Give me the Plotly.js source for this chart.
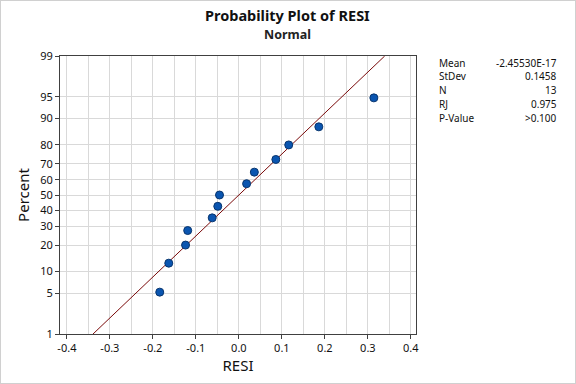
<!DOCTYPE html>
<html>
<head>
<meta charset="utf-8">
<script src="https://cdn.plot.ly/plotly-3.0.1.min.js"></script>
<style>
html,body{margin:0;padding:0;background:#fff;}
#wrap{width:574px;height:382px;border:1px solid #d0d0d0;overflow:hidden;}
#chart{width:574px;height:382px;}
</style>
</head>
<body>
<div id="wrap"><div id="chart"></div></div>
<script>
// ---- data ----
const resi = [-0.184, -0.163, -0.124, -0.119, -0.062, -0.049, -0.045, 0.018, 0.036, 0.086, 0.116, 0.186, 0.314];
const percent = [5.2, 12.7, 20.1, 27.6, 35.1, 42.5, 50.0, 57.5, 64.9, 72.4, 79.9, 87.3, 94.8];
const percentTicks = [1, 5, 10, 20, 30, 40, 50, 60, 70, 80, 90, 95, 99];
const xTicks = [-0.4, -0.3, -0.2, -0.1, 0.0, 0.1, 0.2, 0.3, 0.4];
const xTickLabels = ["-0.4", "-0.3", "-0.2", "-0.1", "0.0", "0.1", "0.2", "0.3", "0.4"];
const statLabels = ["Mean", "StDev", "N", "RJ", "P-Value"];
const statValues = ["-2.45530E-17", "0.1458", "13", "0.975", ">0.100"];
const fitMean = -2.45530e-17;
const fitStDev = 0.1458;
const linePercents = [1, 99];

// inverse standard normal CDF (Acklam) – probability-scale transform
function norminv(p) {
  const a = [-3.969683028665376e+01, 2.209460984245205e+02, -2.759285104469687e+02, 1.383577518672690e+02, -3.066479806614716e+01, 2.506628277459239e+00];
  const b = [-5.447609879822406e+01, 1.615858368580409e+02, -1.556989798598866e+02, 6.680131188771972e+01, -1.328068155288572e+01];
  const c = [-7.784894002430293e-03, -3.223964580411365e-01, -2.400758277161838e+00, -2.549732539343734e+00, 4.374664141464968e+00, 2.938163982698783e+00];
  const d = [7.784695709041462e-03, 3.224671290700398e-01, 2.445134137142996e+00, 3.754408661907416e+00];
  const pl = 0.02425, ph = 1 - pl;
  let q, r;
  if (p < pl) {
    q = Math.sqrt(-2 * Math.log(p));
    return (((((c[0]*q+c[1])*q+c[2])*q+c[3])*q+c[4])*q+c[5]) / ((((d[0]*q+d[1])*q+d[2])*q+d[3])*q+1);
  } else if (p <= ph) {
    q = p - 0.5; r = q*q;
    return (((((a[0]*r+a[1])*r+a[2])*r+a[3])*r+a[4])*r+a[5])*q / (((((b[0]*r+b[1])*r+b[2])*r+b[3])*r+b[4])*r+1);
  } else {
    q = Math.sqrt(-2 * Math.log(1 - p));
    return -(((((c[0]*q+c[1])*q+c[2])*q+c[3])*q+c[4])*q+c[5]) / ((((d[0]*q+d[1])*q+d[2])*q+d[3])*q+1);
  }
}
const toZ = pc => norminv(pc / 100);

const lineX = linePercents.map(pc => fitMean + fitStDev * toZ(pc));
const lineY = linePercents.map(toZ);

const FONT = '"Noto Sans", "Open Sans", sans-serif';

const traces = [
  {
    x: lineX, y: lineY, type: 'scatter', mode: 'lines',
    line: {color: '#7a0a0a', width: 1}, hoverinfo: 'skip', showlegend: false
  },
  {
    x: resi, y: percent.map(toZ), type: 'scatter', mode: 'markers',
    marker: {size: 8, color: '#0a55b0', line: {color: '#08356e', width: 1}},
    showlegend: false
  }
];

// plot-area pixel geometry for annotation placement
const L = 60, R = 415, T = 56, B = 333;
const px = x => (x - L) / (R - L);
const py = y => (B - y) / (B - T);

const annotations = [
  {text: '<b>Probability Plot of RESI</b>', xref: 'paper', yref: 'paper', x: px(287), y: py(15.5),
   xanchor: 'center', yanchor: 'middle', showarrow: false, borderpad: 0, font: {family: FONT, size: 14.5, color: '#111'}},
  {text: '<b>Normal</b>', xref: 'paper', yref: 'paper', x: px(287), y: py(34.5),
   xanchor: 'center', yanchor: 'middle', showarrow: false, borderpad: 0, font: {family: FONT, size: 12.5, color: '#222'}}
];
const rowStart = 62.5, rowStep = 13.7;
statLabels.forEach((s, i) => {
  const yy = rowStart + i * rowStep;
  annotations.push({text: s, xref: 'paper', yref: 'paper', x: px(437), y: py(yy),
    xanchor: 'left', yanchor: 'middle', showarrow: false, borderpad: 0, font: {family: FONT, size: 10, color: '#111'}});
  annotations.push({text: statValues[i], xref: 'paper', yref: 'paper', x: px(557), y: py(yy),
    xanchor: 'right', yanchor: 'middle', showarrow: false, borderpad: 0, font: {family: FONT, size: 10, color: '#111'}});
});

const layout = {
  width: 574, height: 382,
  margin: {l: 59, r: 159, t: 55, b: 49, pad: 0},
  paper_bgcolor: '#ffffff', plot_bgcolor: '#ffffff',
  font: {family: FONT, size: 11, color: '#111'},
  showlegend: false,
  xaxis: {
    range: [-0.416, 0.412],
    tickmode: 'array', tickvals: xTicks, ticktext: xTickLabels,
    ticks: 'outside', ticklen: 4, tickcolor: '#404040', tickwidth: 1,
    showgrid: true, gridcolor: '#d9d9d9', gridwidth: 1,
    minor: {tickmode: 'linear', tick0: 0, dtick: 0.05, showgrid: true, gridcolor: '#d9d9d9', gridwidth: 1, ticks: ''},
    zeroline: false,
    showline: true, linecolor: '#404040', linewidth: 1, mirror: true,
    tickfont: {family: FONT, size: 11, color: '#111'},
    title: {text: 'RESI', font: {family: FONT, size: 15, color: '#111'}, standoff: 2}
  },
  yaxis: {
    range: [toZ(1), toZ(99)],
    tickmode: 'array', tickvals: percentTicks.map(toZ), ticktext: percentTicks.map(String),
    ticks: 'outside', ticklen: 4, tickcolor: '#404040', tickwidth: 1,
    showgrid: true, gridcolor: '#d9d9d9', gridwidth: 1,
    zeroline: false,
    showline: true, linecolor: '#404040', linewidth: 1, mirror: true,
    tickfont: {family: FONT, size: 11, color: '#111'},
    title: {text: 'Percent', font: {family: FONT, size: 15, color: '#111'}, standoff: 6}
  },
  annotations: annotations
};

Plotly.newPlot('chart', traces, layout, {displayModeBar: false, staticPlot: true});
</script>
</body>
</html>
